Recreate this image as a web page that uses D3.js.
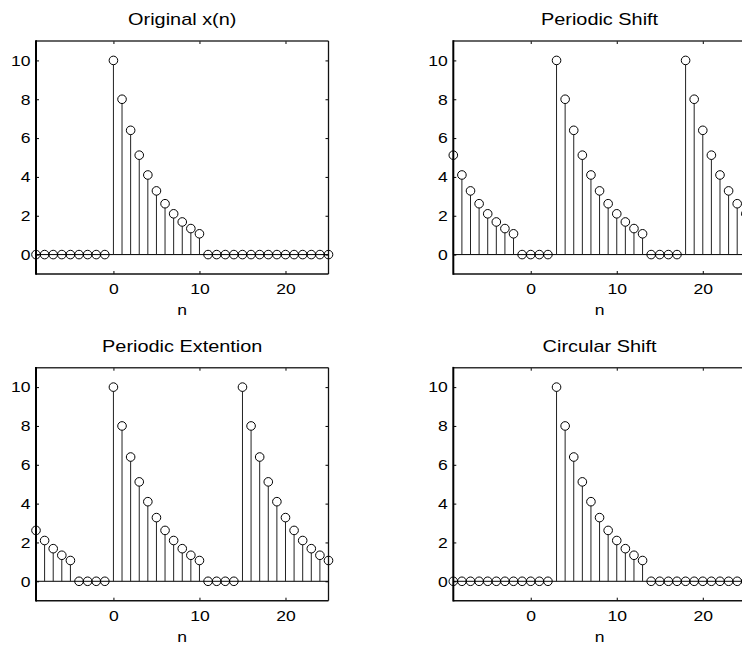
<!DOCTYPE html>
<html>
<head>
<meta charset="utf-8">
<script src="https://cdn.jsdelivr.net/npm/d3@7"></script>
<style>
  html, body { margin: 0; padding: 0; background: #fff; }
  svg { display: block; }
  text { font-family: "Liberation Sans", Arial, Helvetica, sans-serif; fill: #000; }
  .sx { transform-box: fill-box; transform: scaleX(1.17); }
</style>
</head>
<body>
<svg id="chart" width="742" height="645"></svg>
<script>
// ---- data ----
const nValues = [-9,-8,-7,-6,-5,-4,-3,-2,-1,0,1,2,3,4,5,6,7,8,9,10,11,12,13,14,15,16,17,18,19,20,21,22,23,24,25];

const original = [0,0,0,0,0,0,0,0,0,
  10,8,6.4,5.12,4.1,3.28,2.62,2.1,1.68,1.34,1.07,
  0,0,0,0,0,0,0,0,0,0,0,0,0,0,0];

const periodicShift = [5.12,4.1,3.28,2.62,2.1,1.68,1.34,1.07,
  0,0,0,0,
  10,8,6.4,5.12,4.1,3.28,2.62,2.1,1.68,1.34,1.07,
  0,0,0,0,
  10,8,6.4,5.12,4.1,3.28,2.62,2.1];

const periodicExt = [2.62,2.1,1.68,1.34,1.07,
  0,0,0,0,
  10,8,6.4,5.12,4.1,3.28,2.62,2.1,1.68,1.34,1.07,
  0,0,0,0,
  10,8,6.4,5.12,4.1,3.28,2.62,2.1,1.68,1.34,1.07];

const circularShift = [0,0,0,0,0,0,0,0,0,0,0,0,
  10,8,6.4,5.12,4.1,3.28,2.62,2.1,1.68,1.34,1.07,
  0,0,0,0,0,0,0,0,0,0,0,0];

const titles = ["Original x(n)", "Periodic Shift", "Periodic Extention", "Circular Shift"];
const xTicks = [0, 10, 20];
const yTicks = [0, 2, 4, 6, 8, 10];
const xLabel = "n";

// ---- layout ----
const panels = [
  { title: titles[0], values: original,      left: 36,    top: 41 },
  { title: titles[1], values: periodicShift, left: 453.3, top: 41 },
  { title: titles[2], values: periodicExt,   left: 36,    top: 367.7 },
  { title: titles[3], values: circularShift, left: 453.3, top: 367.7 }
];
const W = 292.5, H = 233;

const svg = d3.select("#chart");

panels.forEach(p => {
  const x = d3.scaleLinear().domain([-9, 25]).range([p.left, p.left + W]);
  const y = d3.scaleLinear().domain([-1, 11]).range([p.top + H, p.top]);
  const g = svg.append("g");

  const pts = nValues.map((n, i) => ({ n, v: p.values[i] }));

  // baseline
  g.append("line")
    .attr("x1", x(-9)).attr("x2", x(25))
    .attr("y1", y(0)).attr("y2", y(0))
    .attr("stroke", "#000").attr("stroke-width", 1);

  // stems
  g.selectAll(".stem").data(pts.filter(d => d.v !== 0)).join("line")
    .attr("class", "stem")
    .attr("x1", d => x(d.n)).attr("x2", d => x(d.n))
    .attr("y1", y(0)).attr("y2", d => y(d.v) + 4.3)
    .attr("stroke", "#222").attr("stroke-width", 1);

  // markers
  g.selectAll(".mk").data(pts).join("circle")
    .attr("class", "mk")
    .attr("cx", d => x(d.n)).attr("cy", d => y(d.v))
    .attr("r", 4.3)
    .attr("fill", "none").attr("stroke", "#000").attr("stroke-width", 1);

  // axes with inward ticks
  const ax = g.append("g").attr("class", "axes");
  const bottom = ax.append("g").attr("transform", `translate(0,${p.top + H})`)
    .call(d3.axisBottom(x).tickValues(xTicks).tickSize(-3).tickPadding(9.5));
  const top = ax.append("g").attr("transform", `translate(0,${p.top})`)
    .call(d3.axisTop(x).tickValues(xTicks).tickSize(-3).tickFormat(""));
  const left = ax.append("g").attr("transform", `translate(${p.left},0)`)
    .call(d3.axisLeft(y).tickValues(yTicks).tickSize(-3).tickPadding(5.5));
  const right = ax.append("g").attr("transform", `translate(${p.left + W},0)`)
    .call(d3.axisRight(y).tickValues(yTicks).tickSize(-3).tickFormat(""));
  ax.selectAll(".domain").remove();
  ax.selectAll(".tick line").attr("stroke", "#000").attr("stroke-width", 1);
  ax.selectAll(".tick text")
    .attr("font-size", 15)
    .attr("font-family", "'Liberation Sans', Arial, sans-serif")
    .attr("fill", "#000");
  bottom.selectAll(".tick text").attr("class", "sx").style("transform-origin", "50% 50%");
  left.selectAll(".tick text").attr("class", "sx").style("transform-origin", "100% 50%");

  // box
  g.append("line").attr("x1", p.left).attr("x2", p.left + W).attr("y1", p.top).attr("y2", p.top)
    .attr("stroke", "#333").attr("stroke-width", 1.6);
  g.append("line").attr("x1", p.left).attr("x2", p.left + W).attr("y1", p.top + H).attr("y2", p.top + H)
    .attr("stroke", "#111").attr("stroke-width", 1.6);
  g.append("line").attr("x1", p.left + W).attr("x2", p.left + W).attr("y1", p.top).attr("y2", p.top + H)
    .attr("stroke", "#111").attr("stroke-width", 1.3);
  g.append("line").attr("x1", p.left).attr("x2", p.left).attr("y1", p.top - 0.8).attr("y2", p.top + H + 0.8)
    .attr("stroke", "#000").attr("stroke-width", 2);

  // title
  g.append("text")
    .attr("class", "sx").style("transform-origin", "50% 50%")
    .attr("x", p.left + W / 2).attr("y", p.top - 16)
    .attr("text-anchor", "middle").attr("font-size", 17)
    .text(p.title);

  // x label
  g.append("text")
    .attr("class", "sx").style("transform-origin", "50% 50%")
    .attr("x", p.left + W / 2).attr("y", p.top + H + 41)
    .attr("text-anchor", "middle").attr("font-size", 15)
    .text(xLabel);
});
</script>
</body>
</html>
